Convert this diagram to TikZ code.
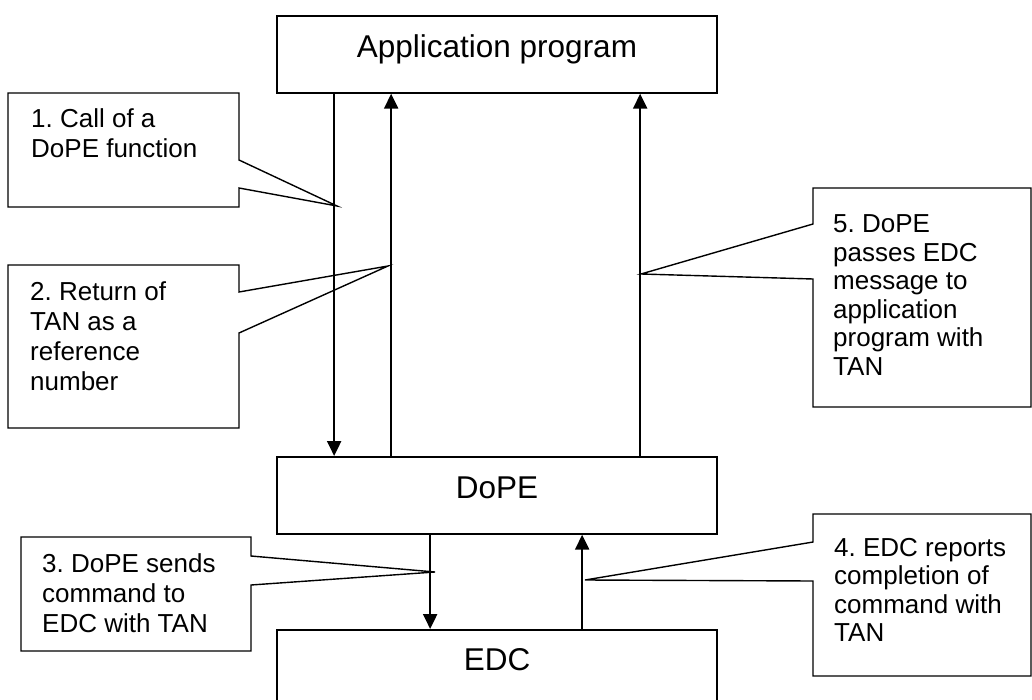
\documentclass[tikz,border=0pt]{standalone}
\usepackage{fontspec}
\setmainfont{Liberation Sans}
\usetikzlibrary{arrows.meta}
\frenchspacing
\begin{document}
\begin{tikzpicture}[x=1pt,y=-1pt,
 box/.style={draw, line width=1.7pt, minimum width=440pt, minimum height=77pt, inner sep=0pt, anchor=north,
   font=\fontsize{31.5}{36}\selectfont\frenchspacing, text height=23pt, text depth=16pt},
 flow/.style={line width=2.2pt, -{Triangle[length=15pt,width=14pt]}},
 callout/.style={draw, line width=1.4pt, line join=miter},
 ctext/.style={anchor=base west, inner sep=0pt},
 cfontA/.style={font=\fontsize{26}{30}\selectfont\frenchspacing},
 cfontB/.style={font=\fontsize{26}{28.5}\selectfont\frenchspacing}
]
\useasboundingbox (0,0) rectangle (1032,700);

% main boxes
\node[box] (app) at (497,15) {Application program};
\node[box] (dope) at (497,456) {DoPE};
\node[box, text depth=18pt] (edc) at (497,629) {EDC};

% flows
\draw[flow] ([xshift=58pt]app.south west) -- ([xshift=58pt]dope.north west);
\draw[flow] ([xshift=115pt]dope.north west) -- ([xshift=115pt]app.south west);
\draw[flow] ([xshift=364pt]dope.north west) -- ([xshift=364pt]app.south west);
\draw[flow] ([xshift=154pt]dope.south west) -- ([xshift=154pt]edc.north west);
\draw[flow] ([xshift=306pt]edc.north west) -- ([xshift=306pt]dope.south west);

% callout 1
\draw[callout] (8,93) -- (239,93) -- (239,160) -- (337,206) -- (239,188) -- (239,207) -- (8,207) -- cycle;
\node[ctext, cfontA] (c1) at (31,128) {\begin{tabular}[t]{@{}l@{}}1. Call of a\\DoPE function\end{tabular}};

% callout 2
\draw[callout] (8,265) -- (239,265) -- (239,292) -- (388,266) -- (239,333) -- (239,428) -- (8,428) -- cycle;
\node[ctext, cfontA] (c2) at (30,300) {\begin{tabular}[t]{@{}l@{}}2. Return of\\TAN as a\\reference\\number\end{tabular}};

% callout 3
\draw[callout] (21,537) -- (251,537) -- (251,556) -- (435,572) -- (251,585) -- (251,651) -- (21,651) -- cycle;
\node[ctext, cfontA] (c3) at (42,572) {\begin{tabular}[t]{@{}l@{}}3. DoPE sends\\command to\\EDC with TAN\end{tabular}};

% callout 4
\draw[callout] (813,514) -- (1031,514) -- (1031,676) -- (813,676) -- (813,581) -- (585,580) -- (813,542) -- cycle;
\node[ctext, cfontB] (c4) at (834,556) {\begin{tabular}[t]{@{}l@{}}4. EDC reports\\completion of\\command with\\TAN\end{tabular}};

% callout 5
\draw[callout] (813,188) -- (1031,188) -- (1031,407) -- (813,407) -- (813,279) -- (641,274) -- (813,224) -- cycle;
\node[ctext, cfontB] (c5) at (833,233) {\begin{tabular}[t]{@{}l@{}}5. DoPE\\passes EDC\\message to\\application\\program with\\TAN\end{tabular}};
\end{tikzpicture}
\end{document}
